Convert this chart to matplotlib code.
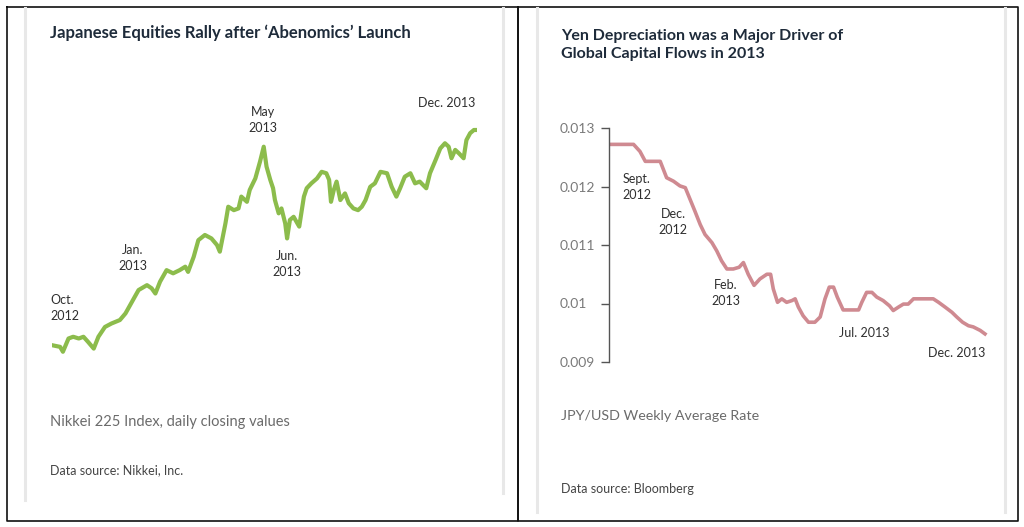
import matplotlib
matplotlib.use("Agg")
import matplotlib.pyplot as plt
from matplotlib.lines import Line2D

plt.rcParams['font.family'] = ['Lato', 'DejaVu Sans']

# Nikkei 225 (days since start of Oct 2012, index level)
nikkei_day = [0, 9, 12, 18, 23, 29, 34, 39, 45, 50, 57, 64, 73, 79, 84, 89, 93, 102,
              107, 111, 116, 123, 130, 137, 143, 146, 152, 157, 164, 171, 177, 180,
              186, 189, 195, 200, 203, 209, 212, 218, 223, 227, 230, 234, 237, 239,
              243, 246, 250, 252, 255, 259, 262, 265, 270, 273, 278, 284, 289, 294,
              297, 299, 302, 305, 309, 314, 318, 323, 328, 332, 336, 341, 346, 352,
              359, 364, 369, 373, 378, 384, 389, 394, 401, 405, 411, 416, 421, 425,
              428, 432, 436, 441, 444, 448, 452, 455]
nikkei_val = [8770, 8710, 8540, 9000, 9060, 9000, 9060, 8880, 8650, 9060, 9400, 9520,
              9640, 9870, 10160, 10450, 10680, 10850, 10740, 10560, 10970, 11370,
              11260, 11370, 11490, 11310, 11830, 12410, 12590, 12470, 12240, 12010,
              12990, 13570, 13450, 13510, 13920, 13740, 14150, 14550, 15130, 15650,
              14960, 14500, 14210, 13800, 13340, 13510, 12990, 12470, 13110, 13220,
              13050, 12880, 13920, 14210, 14380, 14550, 14780, 14730, 14500, 13740,
              14150, 14440, 13800, 14030, 13690, 13510, 13450, 13570, 13800, 14260,
              14380, 14780, 14730, 14260, 13920, 14210, 14610, 14730, 14380, 14440,
              14210, 14730, 15190, 15590, 15770, 15650, 15250, 15540, 15420, 15250,
              15880, 16120, 16230, 16230]

# JPY/USD weekly average (weeks since start of Aug 2012)
yen_week = [0, 4.1, 5.3, 6.3, 9.1, 9.7, 10.3, 11.6, 12.8, 13.8, 14.7, 15.6, 16.6,
            17.5, 18.8, 19.7, 20.6, 21.6, 22.8, 23.9, 24.7, 25.6, 26.7, 27.8, 29.1,
            29.8, 30.3, 31.1, 31.9, 32.8, 33.8, 34.4, 35, 35.9, 36.9, 38.1, 39.1, 40,
            40.8, 41.6, 42.3, 43.4, 44.7, 46.3, 46.9, 47.8, 48.8, 49.7, 50.9, 52.1,
            52.8, 53.8, 54.7, 55.6, 56.6, 58.4, 60.3, 61.3, 62.5, 63.8, 64.7, 65.8,
            66.9, 67.8, 69.1, 70]
yen_rate = [0.01272, 0.01272, 0.01260, 0.01243, 0.01243, 0.01229, 0.01215, 0.01209,
            0.01201, 0.01198, 0.01178, 0.01158, 0.01135, 0.01118, 0.01104, 0.01090,
            0.01073, 0.01059, 0.01059, 0.01062, 0.01070, 0.01050, 0.01031, 0.01042,
            0.01050, 0.01050, 0.01025, 0.01002, 0.01008, 0.01002, 0.01005, 0.01008,
            0.00994, 0.00979, 0.00968, 0.00968, 0.00977, 0.01008, 0.01028, 0.01028,
            0.01011, 0.00989, 0.00989, 0.00989, 0.01002, 0.01019, 0.01019, 0.01011,
            0.01005, 0.00996, 0.00988, 0.00994, 0.00999, 0.00999, 0.01008, 0.01008,
            0.01008, 0.01002, 0.00994, 0.00985, 0.00977, 0.00968, 0.00962, 0.00960,
            0.00954, 0.00948]
yen_ticks = [0.009, 0.01, 0.011, 0.012, 0.013]
yen_ticklabels = ['0.009', '0.01', '0.011', '0.012', '0.013']

W, H = 1024, 527
fig = plt.figure(figsize=(W / 100, H / 100), dpi=100)


def fx(px):
    return px / W


def fy(py):
    return 1 - py / H


navy = '#1e2b3a'
note = '#2f2f2f'
grey = '#6b6b6b'

# panel frames
for x0, x1 in [(7, 518), (518, 1018)]:
    fig.add_artist(Line2D([fx(x0), fx(x1), fx(x1), fx(x0), fx(x0)],
                          [fy(7), fy(7), fy(521), fy(521), fy(7)],
                          color='#111111', lw=1.2))
for x, y1 in [(25, 500), (503, 493), (537, 512), (1005, 512)]:
    fig.add_artist(Line2D([fx(x), fx(x)], [fy(8), fy(y1)], color='#e8e8e8', lw=2.2))

# ---- left: Nikkei
ax1 = fig.add_axes([fx(51.7), fy(355.8), fx(425), (355.8 - 122.2) / H])
ax1.plot(nikkei_day, nikkei_val, color='#8cbc4c', lw=3, solid_joinstyle='round')
ax1.set_xlim(0, 455)
ax1.set_ylim(8400, 16500)
ax1.axis('off')

fig.text(fx(50), fy(33), "Japanese Equities Rally after \u2018Abenomics\u2019 Launch",
         fontsize=12, fontweight='bold', color=navy, va='center')
lab = dict(fontsize=9, color=note, va='center', linespacing=1.35)
fig.text(fx(50), fy(308), "Oct.\n2012", ha='left', **lab)
fig.text(fx(133), fy(258), "Jan.\n2013", ha='center', **lab)
fig.text(fx(263), fy(120), "May\n2013", ha='center', **lab)
fig.text(fx(287), fy(264), "Jun.\n2013", ha='center', **lab)
fig.text(fx(475), fy(103), "Dec. 2013", ha='right', **lab)
fig.text(fx(50), fy(422), "Nikkei 225 Index, daily closing values",
         fontsize=10.5, color=grey, va='center')
fig.text(fx(50), fy(470), "Data source: Nikkei, Inc.",
         fontsize=9, color='#444444', va='center')

# ---- right: JPY/USD
ax2 = fig.add_axes([fx(608.7), fy(362), fx(381.3), 234 / H])
ax2.plot(yen_week, yen_rate, color='#cf8a91', lw=2.6, solid_joinstyle='round')
ax2.set_xlim(-0.56, 70.94)
ax2.set_ylim(0.009, 0.013)
for s in ['top', 'right', 'bottom']:
    ax2.spines[s].set_visible(False)
ax2.spines['left'].set_color('#555555')
ax2.spines['left'].set_linewidth(1)
ax2.set_xticks([])
ax2.set_yticks(yen_ticks)
ax2.set_yticklabels(yen_ticklabels)
ax2.tick_params(axis='y', length=5.8, width=1, color='#555555', pad=29.3,
                labelsize=10, labelcolor='#7a7a7a')
for t in ax2.get_yticklabels():
    t.set_horizontalalignment('left')

fig.text(fx(561), fy(45), "Yen Depreciation was a Major Driver of\nGlobal Capital Flows in 2013",
         fontsize=11.5, fontweight='bold', color=navy, va='center', linespacing=1.45)
fig.text(fx(637), fy(187), "Sept.\n2012", ha='center', **lab)
fig.text(fx(673), fy(222), "Dec.\n2012", ha='center', **lab)
fig.text(fx(726), fy(293), "Feb.\n2013", ha='center', **lab)
fig.text(fx(864), fy(333), "Jul. 2013", ha='center', **lab)
fig.text(fx(957), fy(353), "Dec. 2013", ha='center', **lab)
fig.text(fx(561), fy(416), "JPY/USD Weekly Average Rate",
         fontsize=10.3, color=grey, va='center')
fig.text(fx(561), fy(489), "Data source: Bloomberg",
         fontsize=9, color='#444444', va='center')

plt.savefig("out.png", dpi=100)
